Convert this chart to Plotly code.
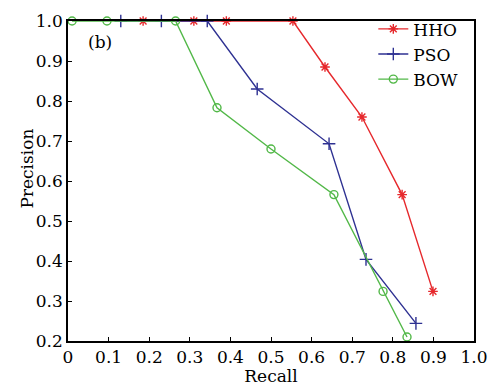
import plotly.graph_objects as go

hho_recall = [0.185, 0.31, 0.39, 0.554, 0.633, 0.724, 0.823, 0.899]
hho_precision = [1.0, 1.0, 1.0, 1.0, 0.885, 0.76, 0.566, 0.324]

pso_recall = [0.13, 0.23, 0.343, 0.466, 0.643, 0.734, 0.857]
pso_precision = [1.0, 1.0, 1.0, 0.83, 0.693, 0.404, 0.244]

bow_recall = [0.01, 0.096, 0.265, 0.367, 0.5, 0.655, 0.776, 0.835]
bow_precision = [1.0, 1.0, 1.0, 0.783, 0.68, 0.566, 0.324, 0.21]

x_ticks = [0, 0.1, 0.2, 0.3, 0.4, 0.5, 0.6, 0.7, 0.8, 0.9, 1.0]
x_tick_labels = ["0", "0.1", "0.2", "0.3", "0.4", "0.5", "0.6", "0.7", "0.8", "0.9", "1.0"]
y_ticks = [0.2, 0.3, 0.4, 0.5, 0.6, 0.7, 0.8, 0.9, 1.0]
y_tick_labels = ["0.2", "0.3", "0.4", "0.5", "0.6", "0.7", "0.8", "0.9", "1.0"]

FONT = "DejaVu Serif"
FS = 17

fig = go.Figure()
fig.add_trace(go.Scatter(x=hho_recall, y=hho_precision, name="HHO", mode="lines+markers",
                         line=dict(color="#e6282c", width=1.4),
                         marker=dict(symbol="asterisk-open", size=8, color="#e6282c",
                                     line=dict(color="#e6282c", width=1.4)),
                         cliponaxis=False))
fig.add_trace(go.Scatter(x=pso_recall, y=pso_precision, name="PSO", mode="lines+markers",
                         line=dict(color="#2e3192", width=1.4),
                         marker=dict(symbol="cross-thin-open", size=9, color="#2e3192",
                                     line=dict(color="#2e3192", width=1.4)),
                         cliponaxis=False))
fig.add_trace(go.Scatter(x=bow_recall, y=bow_precision, name="BOW", mode="lines+markers",
                         line=dict(color="#52b848", width=1.4),
                         marker=dict(symbol="circle-open", size=8, color="#52b848",
                                     line=dict(color="#52b848", width=1.4)),
                         cliponaxis=False))

plot_w = 492 - 68 - 18
plot_h = 386 - 20 - 45

fig.add_annotation(x=0.08, y=0.947, xref="x", yref="y", text="(b)", showarrow=False,
                   font=dict(family=FONT, size=FS, color="black"))
fig.add_annotation(x=(27 - 68) / plot_w, y=(341 - 168) / plot_h, xref="paper", yref="paper",
                   text="Precision", showarrow=False, textangle=-90,
                   xanchor="center", yanchor="middle",
                   font=dict(family=FONT, size=FS, color="black"))

axis_common = dict(showgrid=False, zeroline=False, showline=True, linecolor="black",
                   linewidth=1.5, mirror=True, ticks="inside", ticklen=4,
                   tickcolor="black", automargin=False,
                   tickfont=dict(family=FONT, size=FS, color="black"))

fig.update_xaxes(range=[0, 1.0], tickvals=x_ticks, ticktext=x_tick_labels,
                 title=dict(text="Recall", font=dict(family=FONT, size=FS, color="black"), standoff=2),
                 **axis_common)
fig.update_yaxes(range=[0.2, 1.0], tickvals=y_ticks, ticktext=y_tick_labels,
                 **axis_common)

fig.update_layout(width=492, height=386, margin=dict(l=68, r=18, t=20, b=45),
                  plot_bgcolor="white", paper_bgcolor="white",
                  legend=dict(x=0.752, y=1.027, xanchor="left", yanchor="top",
                              bgcolor="rgba(0,0,0,0)", borderwidth=0,
                              font=dict(family=FONT, size=FS, color="black"),
                              itemwidth=30, tracegroupgap=0),
                  showlegend=True)

fig.write_html("out.html", config={"displayModeBar": False},
               post_script="document.body.style.margin='0';document.body.style.overflow='hidden';")
